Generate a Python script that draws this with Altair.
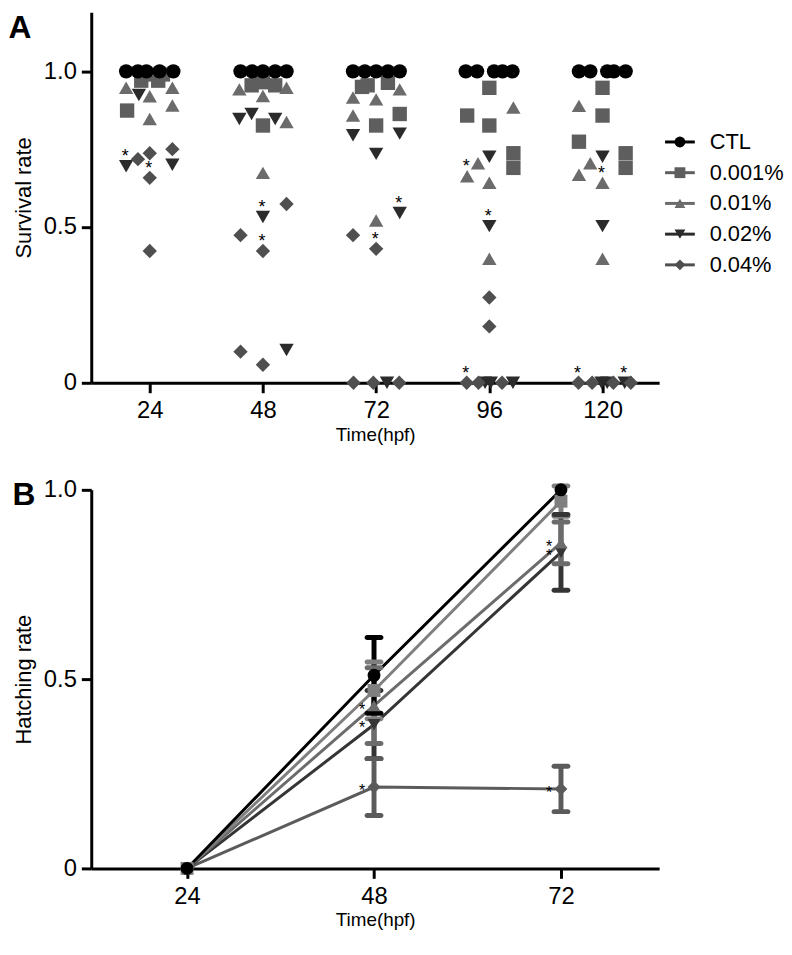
import altair as alt
import pandas as pd

FONT = "Liberation Sans"

series = ["CTL", "0.001%", "0.01%", "0.02%", "0.04%"]
shapes = ["circle", "square", "triangle-up", "triangle-down", "diamond"]
colors_a = ["#000000", "#5e5e5e", "#6b6b6b", "#2b2b2b", "#4f4f4f"]
colors_b = ["#000000", "#7f7f7f", "#6c6c6c", "#353535", "#5b5b5b"]
ticks_a = [24, 48, 72, 96, 120]
ticks_b = [24, 48, 72]
y_ticks = [0, 0.5, 1.0]

# ---------------- Panel A: survival rate of each replicate ----------------
# time (hpf), horizontal scatter offset (h), value, significance flag
ctl_t = [24, 24, 24, 24, 24, 48, 48, 48, 48, 48, 72, 72, 72, 72, 72,
         96, 96, 96, 96, 96, 120, 120, 120, 120, 120]
ctl_off = [-5.0, -2.5, -0.7, 2.1, 5.0, -4.75, -2.3, 0.0, 2.6, 5.0,
           -4.9, -2.4, 0.0, 2.5, 5.0, -5.0, -2.6, 1.0, 2.8, 4.9,
           -5.0, -2.6, 1.0, 2.4, 4.9]
ctl_v = [1.0, 1.0, 1.0, 1.0, 1.0, 1.0, 1.0, 1.0, 1.0, 1.0, 1.0, 1.0, 1.0,
         1.0, 1.0, 1.0, 1.0, 1.0, 1.0, 1.0, 1.0, 1.0, 1.0, 1.0, 1.0]
ctl_star = [0, 0, 0, 0, 0, 0, 0, 0, 0, 0, 0, 0, 0, 0, 0, 0, 0, 0, 0, 0,
            0, 0, 0, 0, 0]

c1_t = [24, 24, 24, 24, 24, 48, 48, 48, 48, 48, 72, 72, 72, 72, 72,
        96, 96, 96, 96, 96, 120, 120, 120, 120, 120]
c1_off = [-4.8, -1.8, -0.4, 1.8, 2.8, -2.4, -1.2, 0.0, 2.6, 0.0,
          -3.0, -1.8, 2.5, 0.0, 5.0, 0.0, -4.7, 0.0, 5.1, 5.1,
          0.0, 0.0, -5.0, 4.9, 4.9]
c1_v = [0.874, 0.97, 0.99, 0.97, 0.99, 0.955, 0.98, 0.965, 0.955, 0.826,
        0.95, 0.955, 0.963, 0.826, 0.863, 0.947, 0.858, 0.826, 0.737, 0.69,
        0.947, 0.858, 0.774, 0.737, 0.69]
c1_star = [0, 0, 0, 0, 0, 0, 0, 0, 0, 0, 0, 0, 0, 0, 0, 0, 0, 0, 0, 0,
           0, 0, 0, 0, 0]

c2_t = [24, 24, 24, 24, 24, 48, 48, 48, 48, 48, 72, 72, 72, 72, 72,
        96, 96, 96, 96, 96, 120, 120, 120, 120, 120]
c2_off = [-5.0, 0.0, 4.8, 4.8, 0.0, -5.0, 0.0, 5.0, 5.0, 0.0,
          -4.9, 0.0, 5.0, -4.9, 0.0, 5.1, -2.4, -4.7, 0.0, 0.0,
          -5.0, -2.6, -5.0, 0.0, 0.0]
c2_v = [0.947, 0.92, 0.947, 0.89, 0.847, 0.942, 0.921, 0.947, 0.837, 0.674,
        0.916, 0.91, 0.942, 0.858, 0.521, 0.884, 0.705, 0.663, 0.642, 0.398,
        0.889, 0.705, 0.668, 0.642, 0.398]
c2_star = [0, 0, 0, 0, 0, 0, 0, 0, 0, 0, 0, 0, 0, 0, 0, 0, 0, 1, 0, 0,
           0, 0, 0, 1, 0]

c3_t = [24, 24, 24, 48, 48, 48, 48, 48, 72, 72, 72, 72, 72,
        96, 96, 96, 96, 96, 120, 120, 120, 120, 120]
c3_off = [-2.3, -5.0, 4.8, -5.0, -2.4, 2.6, 0.0, 5.0,
          -4.9, 5.0, 0.0, 5.0, 2.3, 0.0, 0.0, -0.9, 0.3, 5.0,
          0.0, 0.0, -0.2, 1.0, 4.7]
c3_v = [0.924, 0.695, 0.70, 0.847, 0.863, 0.847, 0.532, 0.105,
        0.795, 0.80, 0.735, 0.545, 0.0, 0.726, 0.503, 0.0, 0.0, 0.0,
        0.726, 0.503, 0.0, 0.0, 0.0]
c3_star = [0, 1, 0, 0, 0, 0, 1, 0, 0, 0, 0, 1, 0, 0, 1, 0, 0, 0,
           0, 0, 0, 0, 1]

c4_t = [24, 24, 24, 24, 24, 48, 48, 48, 48, 48, 72, 72, 72, 72, 72,
        96, 96, 96, 96, 96, 120, 120, 120, 120]
c4_off = [-2.5, 0.0, 4.8, 0.0, 0.0, 5.0, -4.75, 0.0, -4.75, 0.0,
          -4.9, 0.0, -4.8, -0.6, 4.9, 0.0, 0.0, -4.8, -2.3, 2.7,
          -5.1, -2.2, 2.3, 6.0]
c4_v = [0.718, 0.737, 0.75, 0.658, 0.423, 0.574, 0.474, 0.423, 0.10, 0.058,
        0.474, 0.43, 0.0, 0.0, 0.0, 0.274, 0.181, 0.0, 0.0, 0.0,
        0.0, 0.0, 0.0, 0.0]
c4_star = [0, 0, 0, 1, 0, 0, 0, 1, 0, 0, 0, 1, 0, 0, 0, 0, 0, 1, 0, 0,
           1, 0, 0, 0]

# ---------------- Panel B: hatching rate mean and SD ----------------
hatch_time = [24, 48, 72]
ctl_h = [0.0, 0.51, 1.0]
ctl_sd = [0.0, 0.10, 0.0]
ctl_hs = [0, 0, 0]
c1_h = [0.0, 0.47, 0.97]
c1_sd = [0.0, 0.075, 0.04]
c1_hs = [0, 0, 0]
c2_h = [0.0, 0.43, 0.86]
c2_sd = [0.0, 0.10, 0.055]
c2_hs = [0, 1, 1]
c3_h = [0.0, 0.38, 0.835]
c3_sd = [0.0, 0.09, 0.10]
c3_hs = [0, 1, 1]
c4_h = [0.0, 0.215, 0.21]
c4_sd = [0.0, 0.075, 0.06]
c4_hs = [0, 1, 1]


def rows_a(name, t, off, v, star):
    return pd.DataFrame({"series": name, "time": t, "off": off,
                         "rate": v, "star": star})


dfA = pd.concat([
    rows_a("0.001%", c1_t, c1_off, c1_v, c1_star),
    rows_a("0.01%", c2_t, c2_off, c2_v, c2_star),
    rows_a("0.02%", c3_t, c3_off, c3_v, c3_star),
    rows_a("0.04%", c4_t, c4_off, c4_v, c4_star),
    rows_a("CTL", ctl_t, ctl_off, ctl_v, ctl_star),
], ignore_index=True)
dfA["x"] = dfA["time"] + dfA["off"]


def rows_b(name, m, sd, star):
    return pd.DataFrame({"series": name, "time": hatch_time, "mean": m,
                         "sd": sd, "star": star})


dfB = pd.concat([
    rows_b("0.04%", c4_h, c4_sd, c4_hs),
    rows_b("0.02%", c3_h, c3_sd, c3_hs),
    rows_b("0.01%", c2_h, c2_sd, c2_hs),
    rows_b("0.001%", c1_h, c1_sd, c1_hs),
    rows_b("CTL", ctl_h, ctl_sd, ctl_hs),
], ignore_index=True)

label_expr = "datum.value == 0 ? '0' : format(datum.value, '.1f')"

WA, HA = 573, 374
WB, HB = 573, 382

shapeA = alt.Shape("series:N", scale=alt.Scale(domain=series, range=shapes), legend=None)
colorA = alt.Color("series:N", scale=alt.Scale(domain=series, range=colors_a), legend=None)

xA = alt.X("x:Q", scale=alt.Scale(domain=[11.6, 132], nice=False, zero=False),
           axis=alt.Axis(values=ticks_a, title="Time(hpf)", titleFontSize=19,
                         labelPadding=6, titlePadding=3))
yA = alt.Y("rate:Q", scale=alt.Scale(domain=[0, 1.19], nice=False),
           axis=alt.Axis(values=y_ticks, title="Survival rate", labelExpr=label_expr,
                         titleFontSize=22, labelPadding=5, titlePadding=8))

ptsA = alt.Chart(dfA).mark_point(filled=True, opacity=1, size=210).encode(
    x=xA, y=yA, shape=shapeA, color=colorA)
starsA = alt.Chart(dfA).transform_filter("datum.star == 1").mark_text(
    text="*", fontSize=18, font=FONT, color="black", dy=-9, dx=-1).encode(
    x=alt.X("x:Q"), y=alt.Y("rate:Q"))
labA = alt.Chart(pd.DataFrame({"label": ["A"]})).mark_text(
    fontSize=32, fontWeight="bold", font=FONT, color="black",
    align="center", baseline="middle").encode(
    text="label:N", x=alt.value(-72), y=alt.value(16))

panelA = alt.layer(ptsA, starsA, labA).properties(width=WA, height=HA)

# manual legend (line + symbol, like the original figure)
leg_df = pd.DataFrame({"series": series})
leg_y = alt.Y("series:N", sort=series, axis=None,
              scale=alt.Scale(type="point", range=[131, 255], padding=0))
leg_line = alt.Chart(leg_df).mark_rule(strokeWidth=3).encode(
    y=leg_y, x=alt.value(6), x2=alt.value(36), color=colorA)
leg_pts = alt.Chart(leg_df).mark_point(filled=True, opacity=1, size=120).encode(
    y=leg_y, x=alt.value(21), shape=shapeA, color=colorA)
leg_txt = alt.Chart(leg_df).mark_text(
    align="left", baseline="middle", fontSize=22, font=FONT, color="black").encode(
    y=leg_y, x=alt.value(51), text="series:N")
legend = alt.layer(leg_line, leg_pts, leg_txt).properties(width=118, height=HA)

top = alt.hconcat(panelA, legend, spacing=0)

# ---------------- Panel B ----------------
shapeB = alt.Shape("series:N", scale=alt.Scale(domain=series, range=shapes), legend=None)
colorB = alt.Color("series:N", scale=alt.Scale(domain=series, range=colors_b), legend=None)
xB = alt.X("time:Q", scale=alt.Scale(domain=[11.7, 84.6], nice=False, zero=False),
           axis=alt.Axis(values=ticks_b, title="Time(hpf)", titleFontSize=19,
                         labelPadding=6, titlePadding=3))
yB = alt.Y("mean:Q", scale=alt.Scale(domain=[0, 1], nice=False),
           axis=alt.Axis(values=y_ticks, title="Hatching rate", labelExpr=label_expr,
                         titleFontSize=22, labelPadding=5, titlePadding=8))

baseB = alt.Chart(dfB)
linesB = baseB.mark_line(strokeWidth=3).encode(x=xB, y=yB, color=colorB,
                                               detail="series:N")
errB = baseB.transform_filter("datum.sd > 0").transform_calculate(
    lo="datum.mean - datum.sd", hi="datum.mean + datum.sd").mark_rule(
    strokeWidth=5).encode(x="time:Q", y="lo:Q", y2="hi:Q", color=colorB)
capLo = baseB.transform_filter("datum.sd > 0").transform_calculate(
    lo="datum.mean - datum.sd").mark_tick(
    orient="horizontal", thickness=5, size=19, cornerRadius=2.5, opacity=1).encode(
    x="time:Q", y="lo:Q", color=colorB)
capHi = baseB.transform_filter("datum.sd > 0").transform_calculate(
    hi="datum.mean + datum.sd").mark_tick(
    orient="horizontal", thickness=5, size=19, cornerRadius=2.5, opacity=1).encode(
    x="time:Q", y="hi:Q", color=colorB)
ptsB = baseB.mark_point(filled=True, opacity=1, size=170).encode(
    x="time:Q", y="mean:Q", shape=shapeB, color=colorB)
starsB = baseB.transform_filter("datum.star == 1").mark_text(
    text="*", fontSize=16, font=FONT, color="black", dx=-12, dy=4).encode(
    x="time:Q", y="mean:Q")
labB = alt.Chart(pd.DataFrame({"label": ["B"]})).mark_text(
    fontSize=32, fontWeight="bold", font=FONT, color="black",
    align="center", baseline="middle").encode(
    text="label:N", x=alt.value(-68), y=alt.value(5))

panelB = alt.layer(linesB, errB, capLo, capHi, ptsB, starsB, labB).properties(
    width=WB, height=HB)

chart = alt.vconcat(top, panelB, spacing=34).resolve_scale(
    color="independent", shape="independent"
).properties(
    padding={"left": 0, "top": 0, "right": 0, "bottom": 0}
).configure_axis(
    domainColor="black", domainWidth=3, tickColor="black", tickWidth=3,
    tickSize=10, labelFont=FONT, labelFontSize=24, labelColor="black",
    titleFont=FONT, titleFontWeight="normal", titleColor="black", grid=False,
    labelOverlap=False
).configure_view(stroke=None)

chart.save("out.html", embed_options={"renderer": "svg", "actions": False})
